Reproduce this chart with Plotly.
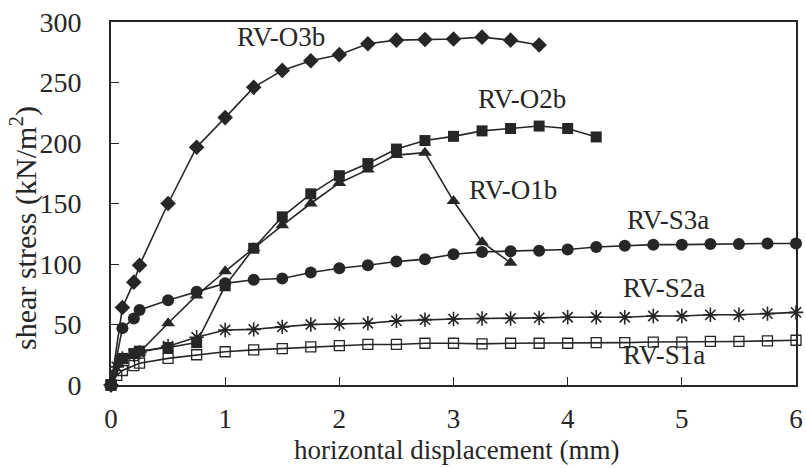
import plotly.graph_objects as go

# ---------------- data ----------------
x_o3b = [0, 0.1, 0.2, 0.25, 0.5, 0.75, 1.0, 1.25, 1.5, 1.75, 2.0, 2.25, 2.5, 2.75, 3.0, 3.25, 3.5, 3.75]
y_o3b = [0, 64, 85, 99, 150, 196.5, 221, 246, 260, 268, 273, 282, 285, 285.5, 286, 287.5, 285, 281]

x_o2b = [0, 0.1, 0.2, 0.25, 0.5, 0.75, 1.0, 1.25, 1.5, 1.75, 2.0, 2.25, 2.5, 2.75, 3.0, 3.25, 3.5, 3.75, 4.0, 4.25]
y_o2b = [0, 22, 26, 28, 31, 35, 82, 113, 139, 158, 173, 183, 195, 202, 205.5, 210, 212, 214, 212, 205]

x_o1b = [0, 0.1, 0.2, 0.25, 0.5, 0.75, 1.0, 1.25, 1.5, 1.75, 2.0, 2.25, 2.5, 2.75, 3.0, 3.25, 3.5]
y_o1b = [0, 20, 25, 27, 51, 74, 94, 113, 132, 150, 167, 178, 190, 192, 152, 118, 101]

x_s3a = [0, 0.1, 0.2, 0.25, 0.5, 0.75, 1.0, 1.25, 1.5, 1.75, 2.0, 2.25, 2.5, 2.75, 3.0,
         3.25, 3.5, 3.75, 4.0, 4.25, 4.5, 4.75, 5.0, 5.25, 5.5, 5.75, 6.0]
y_s3a = [0, 47, 55, 62, 70, 77, 84, 87, 88, 93, 96.5, 99, 102, 104, 108,
         110, 110.5, 111, 112, 114, 115, 116, 116, 116.5, 116.5, 117, 117]

x_s2a = [0, 0.05, 0.1, 0.2, 0.25, 0.5, 0.75, 1.0, 1.25, 1.5, 1.75, 2.0, 2.25, 2.5, 2.75, 3.0,
         3.25, 3.5, 3.75, 4.0, 4.25, 4.5, 4.75, 5.0, 5.25, 5.5, 5.75, 6.0]
y_s2a = [0, 15, 22, 25, 27, 32, 39.5, 45.5, 46, 48, 50, 50.5, 51, 53, 54, 54.5,
         55, 55, 55.5, 56, 56, 56, 57, 57, 58, 58, 59, 60]

x_s1a = [0, 0.05, 0.1, 0.2, 0.25, 0.5, 0.75, 1.0, 1.25, 1.5, 1.75, 2.0, 2.25, 2.5, 2.75, 3.0,
         3.25, 3.5, 3.75, 4.0, 4.25, 4.5, 4.75, 5.0, 5.25, 5.5, 5.75, 6.0]
y_s1a = [0, 8, 12, 16, 18, 22, 25, 27.5, 29, 30, 31.5, 32.5, 33.5, 33.5, 34.5, 34.5,
         34, 34.5, 34.5, 34.5, 35, 35, 35.5, 35.5, 36, 36, 36.5, 37]

x_ticks = [0, 1, 2, 3, 4, 5, 6]
y_ticks = [0, 50, 100, 150, 200, 250, 300]

labels = ["RV-O3b", "RV-O2b", "RV-O1b", "RV-S3a", "RV-S2a", "RV-S1a"]
label_x = [1.487, 3.598, 3.52, 4.88, 4.847, 4.847]
label_y = [287.2, 236.4, 161.2, 136.4, 80.2, 24.8]

x_title = "horizontal displacement (mm)"
y_title = "shear stress (kN/m<sup>2</sup>)"

# ---------------- figure ----------------
INK = "#262626"
FONT = "Liberation Serif"

series = [
    (x_s1a, y_s1a, dict(symbol="square-open", size=10, color=INK, line=dict(width=1.3, color=INK))),
    (x_s2a, y_s2a, dict(symbol="asterisk-open", size=12, color=INK, line=dict(width=1.6, color=INK))),
    (x_s3a, y_s3a, dict(symbol="circle", size=12, color=INK)),
    (x_o1b, y_o1b, dict(symbol="triangle-up", size=12, color=INK)),
    (x_o2b, y_o2b, dict(symbol="square", size=11, color=INK)),
    (x_o3b, y_o3b, dict(symbol="diamond", size=12, color=INK)),
]

fig = go.Figure()
for xs, ys, mk in series:
    fig.add_trace(go.Scatter(
        x=xs, y=ys, mode="lines+markers",
        line=dict(color=INK, width=1.6),
        marker=mk, cliponaxis=False, showlegend=False,
    ))

for t, lx, ly in zip(labels, label_x, label_y):
    fig.add_annotation(x=lx, y=ly, xref="x", yref="y", text=t, showarrow=False,
                       font=dict(family=FONT, size=27, color=INK),
                       xanchor="center", yanchor="middle")

fig.add_annotation(x=0.5043, y=-0.178, xref="paper", yref="paper", text=x_title,
                   showarrow=False, font=dict(family=FONT, size=27, color=INK),
                   xanchor="center", yanchor="middle")
fig.add_annotation(x=-0.1286, y=0.4325, xref="paper", yref="paper", text=y_title,
                   showarrow=False, textangle=-90, font=dict(family=FONT, size=30, color=INK),
                   xanchor="center", yanchor="middle")

axis_common = dict(
    showgrid=False, zeroline=False, showline=True, linecolor=INK, linewidth=1.6,
    mirror=True, ticks="inside", ticklen=8, tickwidth=1.3, tickcolor=INK,
    ticklabeloverflow="allow",
)

fig.update_layout(
    width=806, height=468,
    margin=dict(l=111, r=3, t=22, b=83),
    paper_bgcolor="white", plot_bgcolor="white",
    xaxis=dict(range=[0, 6], tickvals=x_ticks, ticktext=[str(v) for v in x_ticks],
               ticklabelstandoff=9, tickfont=dict(family=FONT, size=27, color=INK),
               **axis_common),
    yaxis=dict(range=[0, 300], tickvals=y_ticks, ticktext=[str(v) for v in y_ticks],
               ticklabelstandoff=22, tickfont=dict(family=FONT, size=28, color=INK),
               **axis_common),
)

fig.write_html("out.html")
